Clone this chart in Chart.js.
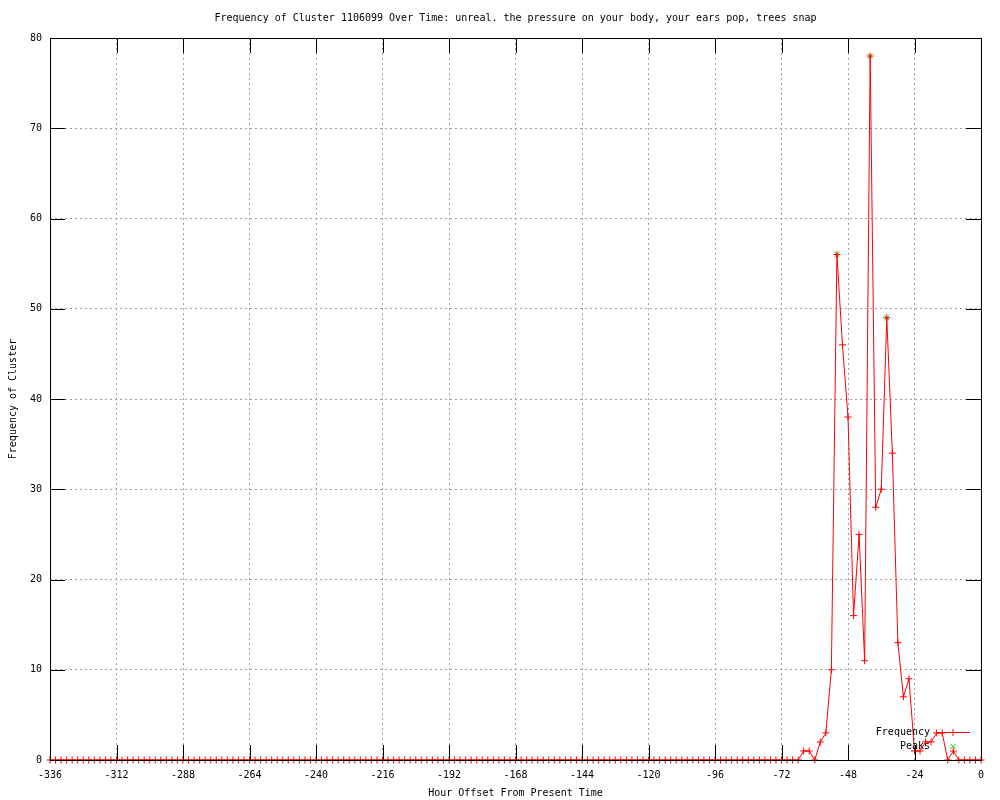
<!DOCTYPE html>
<html>
<head>
<meta charset="utf-8">
<title>Frequency of Cluster 1106099</title>
<script src="https://cdn.jsdelivr.net/npm/chart.js@4.4.1/dist/chart.umd.min.js"></script>
<style>
  html, body { margin: 0; padding: 0; background: #fff; }
  canvas { display: block; }
</style>
</head>
<body>
<canvas id="grafico" width="1000" height="800"></canvas>
<script>
/* ===================== DATOS ===================== */
const horas = [
  -336, -334, -332, -330, -328, -326, -324, -322, -320, -318, -316, -314,
  -312, -310, -308, -306, -304, -302, -300, -298, -296, -294, -292, -290,
  -288, -286, -284, -282, -280, -278, -276, -274, -272, -270, -268, -266,
  -264, -262, -260, -258, -256, -254, -252, -250, -248, -246, -244, -242,
  -240, -238, -236, -234, -232, -230, -228, -226, -224, -222, -220, -218,
  -216, -214, -212, -210, -208, -206, -204, -202, -200, -198, -196, -194,
  -192, -190, -188, -186, -184, -182, -180, -178, -176, -174, -172, -170,
  -168, -166, -164, -162, -160, -158, -156, -154, -152, -150, -148, -146,
  -144, -142, -140, -138, -136, -134, -132, -130, -128, -126, -124, -122,
  -120, -118, -116, -114, -112, -110, -108, -106, -104, -102, -100, -98,
  -96, -94, -92, -90, -88, -86, -84, -82, -80, -78, -76, -74,
  -72, -70, -68, -66, -64, -62, -60, -58, -56, -54, -52, -50,
  -48, -46, -44, -42, -40, -38, -36, -34, -32, -30, -28, -26,
  -24, -22, -20, -18, -16, -14, -12, -10, -8, -6, -4, -2,
  0,
];

const frecuencia = [
  0, 0, 0, 0, 0, 0, 0, 0, 0, 0, 0, 0,
  0, 0, 0, 0, 0, 0, 0, 0, 0, 0, 0, 0,
  0, 0, 0, 0, 0, 0, 0, 0, 0, 0, 0, 0,
  0, 0, 0, 0, 0, 0, 0, 0, 0, 0, 0, 0,
  0, 0, 0, 0, 0, 0, 0, 0, 0, 0, 0, 0,
  0, 0, 0, 0, 0, 0, 0, 0, 0, 0, 0, 0,
  0, 0, 0, 0, 0, 0, 0, 0, 0, 0, 0, 0,
  0, 0, 0, 0, 0, 0, 0, 0, 0, 0, 0, 0,
  0, 0, 0, 0, 0, 0, 0, 0, 0, 0, 0, 0,
  0, 0, 0, 0, 0, 0, 0, 0, 0, 0, 0, 0,
  0, 0, 0, 0, 0, 0, 0, 0, 0, 0, 0, 0,
  0, 0, 0, 0, 1, 1, 0, 2, 3, 10, 56, 46,
  38, 16, 25, 11, 78, 28, 30, 49, 34, 13, 7, 9,
  1, 1, 2, 2, 3, 3, 0, 1, 0, 0, 0, 0,
  0,
];

const horasPico = [-52, -40, -34];
const valoresPico = [56, 78, 49];

/* ===================== CONFIGURACIÓN GLOBAL ===================== */
const fuente = "'DejaVu Sans Mono', 'Liberation Mono', monospace";
Chart.defaults.font.family = fuente;
Chart.defaults.font.size = 10;
Chart.defaults.color = "#000";

/* ===================== MARCO, TICS Y LEYENDA (estilo gnuplot) ===================== */
const marcoGnuplot = {
  id: "marcoGnuplot",
  afterDatasetsDraw(chart) {
    const { ctx, chartArea: a, scales } = chart;
    const largo = 15;
    ctx.save();
    ctx.strokeStyle = "#000";
    ctx.lineWidth = 1;
    ctx.setLineDash([]);

    ctx.strokeRect(Math.round(a.left) + 0.5, Math.round(a.top) + 0.5,
      Math.round(a.right) - Math.round(a.left), Math.round(a.bottom) - Math.round(a.top));

    ctx.beginPath();
    scales.x.ticks.forEach((t) => {
      const px = Math.round(scales.x.getPixelForValue(t.value)) + 0.5;
      ctx.moveTo(px, a.bottom);
      ctx.lineTo(px, a.bottom - largo);
      ctx.moveTo(px, a.top);
      ctx.lineTo(px, a.top + largo);
    });
    scales.y.ticks.forEach((t) => {
      const py = Math.round(scales.y.getPixelForValue(t.value)) + 0.5;
      ctx.moveTo(a.left, py);
      ctx.lineTo(a.left + largo, py);
      ctx.moveTo(a.right, py);
      ctx.lineTo(a.right - largo, py);
    });
    ctx.stroke();

    // leyenda abajo a la derecha, texto a la izquierda de la muestra
    ctx.font = "10px " + fuente;
    ctx.textAlign = "right";
    ctx.textBaseline = "middle";
    const xTexto = a.right - 51;
    const xMuestra = a.right - 28;
    chart.data.datasets.forEach((ds, i) => {
      const y = Math.round(a.bottom - 28 + i * 14) + 0.5;
      ctx.fillStyle = "#000";
      ctx.fillText(ds.label, xTexto, y);
      ctx.strokeStyle = ds.borderColor;
      ctx.lineWidth = 1;
      if (ds.showLine !== false) {
        ctx.beginPath();
        ctx.moveTo(a.right - 45, y);
        ctx.lineTo(a.right - 11, y);
        ctx.stroke();
      }
      Chart.helpers.drawPoint(ctx, {
        pointStyle: ds.pointStyle,
        radius: ds.pointRadius,
        borderWidth: 1,
        rotation: 0,
      }, xMuestra, y);
    });
    ctx.restore();
  },
};

/* ===================== GRÁFICO ===================== */
new Chart(document.getElementById("grafico"), {
  type: "line",
  data: {
    datasets: [
      {
        label: "Frequency",
        data: horas.map((h, i) => ({ x: h, y: frecuencia[i] })),
        borderColor: "#ff0000",
        backgroundColor: "#ff0000",
        pointBorderColor: "#ff0000",
        pointBackgroundColor: "#ff0000",
        borderWidth: 1,
        tension: 0,
        pointStyle: "cross",
        pointRadius: 3.5,
        pointBorderWidth: 1,
        clip: false,
      },
      {
        label: "Peaks",
        data: horasPico.map((h, i) => ({ x: h, y: valoresPico[i] })),
        borderColor: "#00c000",
        backgroundColor: "#00c000",
        pointBorderColor: "#00c000",
        pointBackgroundColor: "#00c000",
        showLine: false,
        pointStyle: "crossRot",
        pointRadius: 3.5,
        pointBorderWidth: 1,
        clip: false,
      },
    ],
  },
  plugins: [marcoGnuplot],
  options: {
    responsive: false,
    devicePixelRatio: 1,
    animation: false,
    events: [],
    layout: { padding: { left: 0, right: 19, top: 0, bottom: 0 } },
    plugins: {
      legend: { display: false },
      tooltip: { enabled: false },
      title: {
        display: true,
        fullSize: false,
        text: "Frequency of Cluster 1106099 Over Time: unreal. the pressure on your body, your ears pop, trees snap",
        color: "#000",
        font: { size: 10, weight: "normal", lineHeight: "12px" },
        padding: { top: 12, bottom: 14 },
      },
    },
    scales: {
      x: {
        type: "linear",
        min: -336,
        max: 0,
        afterFit: (s) => { s.height = 40; },
        border: { display: false, dash: [2, 3] },
        grid: { color: "#a0a0a0", drawTicks: false },
        ticks: { stepSize: 24, autoSkip: false, maxRotation: 0, padding: 9, color: "#000" },
        title: {
          display: true,
          text: "Hour Offset From Present Time",
          color: "#000",
          font: { size: 10, lineHeight: "12px" },
          padding: { top: 0, bottom: 1 },
        },
      },
      y: {
        min: 0,
        max: 80,
        afterFit: (s) => { s.width = 50; },
        border: { display: false, dash: [2, 3] },
        grid: { color: "#a0a0a0", drawTicks: false },
        ticks: { stepSize: 10, padding: 8, color: "#000" },
        title: {
          display: true,
          text: "Frequency of Cluster",
          color: "#000",
          font: { size: 10, lineHeight: "12px" },
          padding: { top: 7, bottom: 0 },
        },
      },
    },
  },
});
</script>
</body>
</html>
